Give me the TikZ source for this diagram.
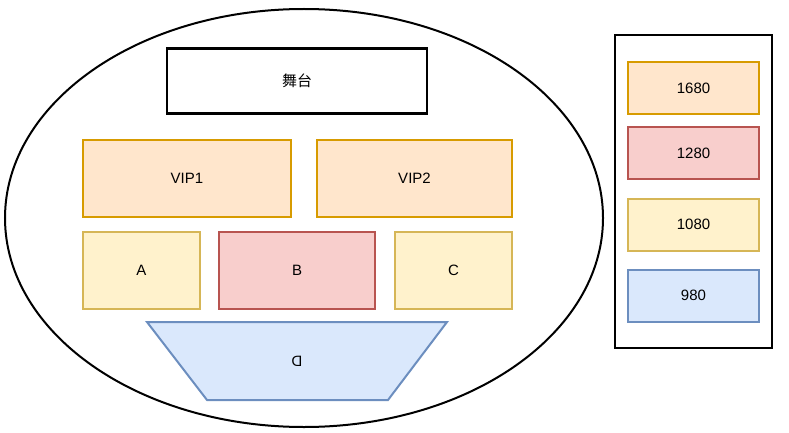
\documentclass[tikz,border=0pt]{standalone}
\usepackage{fontspec}
\usetikzlibrary{shapes.geometric}
\setmainfont{Liberation Sans}
\newfontfamily\cjk{Noto Sans CJK SC}
\definecolor{orF}{HTML}{FFE6CC}\definecolor{orD}{HTML}{D79B00}
\definecolor{rdF}{HTML}{F8CECC}\definecolor{rdD}{HTML}{B85450}
\definecolor{ylF}{HTML}{FFF2CC}\definecolor{ylD}{HTML}{D6B656}
\definecolor{blF}{HTML}{DAE8FC}\definecolor{blD}{HTML}{6C8EBF}
\begin{document}
\begin{tikzpicture}[x=1pt,y=-1pt,font=\fontsize{15}{18}\selectfont,
  box/.style={draw,line width=2pt,rectangle,inner sep=0pt},
  orbox/.style={box,fill=orF,draw=orD},
  rdbox/.style={box,fill=rdF,draw=rdD},
  ylbox/.style={box,fill=ylF,draw=ylD},
  blbox/.style={box,fill=blF,draw=blD}]
\useasboundingbox (0,0) rectangle (789,433);
\node[draw,line width=2pt,ellipse,minimum width=598pt,minimum height=418pt,inner sep=0pt] (hall) at (304,218) {};
\node[draw,line width=2.6pt,rectangle,minimum width=260pt,minimum height=65pt] (stage) at (297,81) {\cjk 舞台};
\node[orbox,minimum width=208pt,minimum height=77pt] (vip1) at (187,178.5) {VIP1};
\node[orbox,minimum width=195pt,minimum height=77pt] (vip2) at (414.5,178.5) {VIP2};
\node[ylbox,minimum width=117pt,minimum height=77pt] (a) at (141.5,270.5) {A};
\node[rdbox,minimum width=156pt,minimum height=77pt] (b) at (297,270.5) {B};
\node[ylbox,minimum width=117pt,minimum height=77pt] (c) at (453.5,270.5) {C};
\draw[blbox] (147,322) -- (447,322) -- (388,400) -- (207,400) -- cycle;
\node[xscale=-1] (d) at (297,361) {D};
\node[draw,line width=2.4pt,rectangle,minimum width=157pt,minimum height=313pt] (legend) at (693.5,191.5) {};
\node[orbox,minimum width=131pt,minimum height=52pt] (p1680) at (693.5,88) {1680};
\node[rdbox,minimum width=131pt,minimum height=52pt] (p1280) at (693.5,153) {1280};
\node[ylbox,minimum width=131pt,minimum height=52pt] (p1080) at (693.5,224.5) {1080};
\node[blbox,minimum width=131pt,minimum height=52pt] (p980) at (693.5,295.5) {980};
\end{tikzpicture}
\end{document}
